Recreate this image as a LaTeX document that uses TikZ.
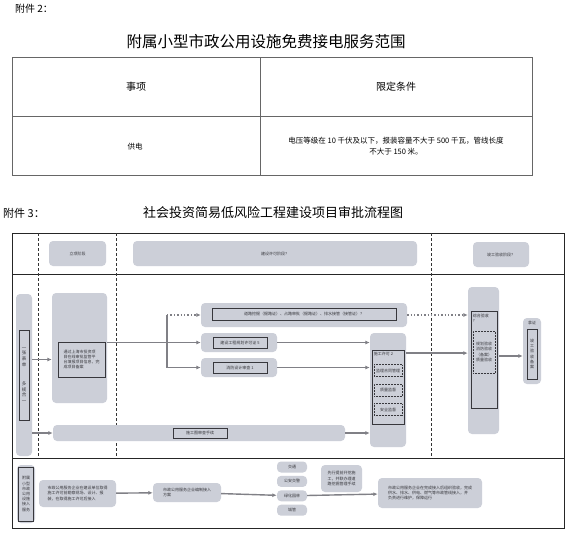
\documentclass[tikz,border=0pt]{standalone}
\usepackage{fontspec}
\setmainfont{Noto Sans CJK SC}
\usetikzlibrary{arrows.meta,positioning}
\XeTeXlinebreaklocale "zh"
\XeTeXlinebreakskip=0pt plus 1pt
\definecolor{boxfill}{RGB}{204,207,216}
\definecolor{arrgray}{RGB}{128,128,134}
\definecolor{inkgray}{RGB}{55,55,60}

\begin{document}
\begin{tikzpicture}[x=1pt,y=-1pt, every node/.style={font=\fontsize{4}{5.2}\selectfont,text=inkgray,inner sep=0pt}, pbox/.style={rectangle,rounded corners=4pt,fill=boxfill,align=center}, ibox/.style={rectangle,draw=inkgray,line width=0.5pt,align=center}, dbox/.style={rectangle,draw=inkgray,densely dotted,line width=0.5pt,align=center}, arr/.style={-{Latex[length=4.5pt,width=4pt]},draw=arrgray,line width=1.4pt}, darr/.style={arr,dotted,line width=1.7pt}, sep/.style={draw=black!80,line width=0.8pt,dash pattern=on 3pt off 2pt}, cell/.style={font=\fontsize{10}{12}\selectfont,text=black}]
\fill[white] (0,0) rectangle (573,539);
\useasboundingbox (0,0) rectangle (573,539);

% attachment 2: table
\node[cell,anchor=west] (att2) at (15,9) {附件 2：};
\node[cell,font=\fontsize{15.5}{18}\selectfont] (title2) at (266,42) {附属小型市政公用设施免费接电服务范围};
\draw[black!60,line width=0.7pt] (12,57) rectangle (532,175) (12,116) -- (532,116) (260,57) -- (260,175);
\node[cell] (h1) at (136,87) {事项};
\node[cell] (h2) at (396,87) {限定条件};
\node[cell,font=\fontsize{7.5}{9}\selectfont] (c1) at (135,147) {供电};
\node[cell,font=\fontsize{7.5}{11}\selectfont,align=center] (c2) at (396,146) {电压等级在 10 千伏及以下，报装容量不大于 500 千瓦，管线长度\\不大于 150 米。};

% attachment 3: flow chart
\node[cell,anchor=west,font=\fontsize{11}{13}\selectfont] (att3) at (3,213) {附件 3：};
\node[cell,font=\fontsize{13}{15}\selectfont] (title3) at (273,213) {社会投资简易低风险工程建设项目审批流程图};
\draw[black!85,line width=0.8pt] (12,233) rectangle (564,528) (12,274) -- (564,274) (12,458) -- (564,458);
\draw[sep] (38,233) -- (38,458) (116,233) -- (116,458) (431,233) -- (431,458);

% stage headers
\node[pbox,minimum width=57pt,minimum height=25pt] (st1) at (77.5,253.5) {立项阶段};
\node[pbox,minimum width=284pt,minimum height=25pt] (st2) at (275,253.5) {建设许可阶段？};
\node[pbox,minimum width=56pt,minimum height=25pt] (st3) at (501,254.5) {竣工验收阶段？};

% left column and project filing
\node[pbox,minimum width=16pt,minimum height=162pt] (lbar) at (24,375) {};
\node[ibox,minimum width=10pt,minimum height=90pt,font=\fontsize{4.5}{5.6}\selectfont] (form) at (24,375) {一\\张\\表\\单\\[14pt]多\\规\\合\\一};
\node[pbox,minimum width=55pt,minimum height=110pt] (big) at (79.5,348) {};
\node[ibox,minimum width=47pt,minimum height=35pt,align=left] (filing) at (81.5,359.5) {通过上海市投资项\\目在线审批监管平\\台填报项目信息，完\\成项目备案};

% approvals
\node[pbox,minimum width=206pt,minimum height=24pt] (wide) at (304,315) {};
\node[ibox,minimum width=184pt,minimum height=12pt] (road) at (304,314) {道路挖掘（掘路证）、占路审批（掘路证）、排水接管（接管证）？};
\node[pbox,minimum width=76pt,minimum height=19pt] (plan) at (239,342.5) {};
\node[ibox,minimum width=54pt,minimum height=11pt] (planin) at (240,342.5) {建设工程规划许可证 5};
\node[pbox,minimum width=76pt,minimum height=19pt] (fire) at (239,367.5) {};
\node[ibox,minimum width=54pt,minimum height=11pt] (firein) at (240,367.5) {消防设计审查 1};
\node[pbox,minimum width=292pt,minimum height=16pt] (bar) at (199,433) {};
\node[ibox,minimum width=54pt,minimum height=10pt] (barin) at (200,433) {施工图审查手续};

% construction permit
\node[pbox,minimum width=36pt,minimum height=114pt] (build) at (388,390) {};
\node[ibox,minimum width=32pt,minimum height=74pt] (buildin) at (388,387) {};
\node[anchor=north west] (bt) at (buildin.north west) {\hspace{2pt}\raisebox{-6pt}{施工许可 2}};
\node[dbox,minimum width=28pt,minimum height=12pt] (d1) at (388,370.5) {监理合同管理};
\node[dbox,minimum width=28pt,minimum height=12pt,below=7pt of d1] (d2) {质量监督};
\node[dbox,minimum width=28pt,minimum height=12pt,below=7pt of d2] (d3) {安全监督};

% acceptance and filing
\node[pbox,minimum width=31pt,minimum height=147pt] (acc) at (483.5,360.5) {};
\node[ibox,minimum width=26pt,minimum height=97pt] (accin) at (484,359.5) {};
\node[anchor=north west,align=left] (at) at ([shift={(2pt,-3pt)}]accin.north west) {综合验收\\?};
\node[dbox,minimum width=22pt,minimum height=42pt,align=left] (accd) at (484,352) {规划验收\\消防验收\\（备案）\\质量验收};
\node[pbox,minimum width=18pt,minimum height=66pt] (cert) at (532,351) {};
\node[anchor=north] (ct) at ([yshift=-3pt]cert.north) {拿证};
\node[ibox,minimum width=10pt,minimum height=50pt] (certin) at (532,354) {竣\\工\\验\\收\\备\\案};

% arrows of the approval part
\coordinate (jn) at (167,342.5);
\draw[draw=arrgray,line width=1.4pt] (big.east |- jn) -- (jn);
\draw[draw=arrgray,line width=1.4pt] (jn |- wide) -- (jn |- fire);
\draw[darr] (jn |- wide) -- (wide.west);
\draw[arr] (jn) -- (plan.west);
\draw[arr] (jn |- fire) -- (fire.west);
\draw[arr] (lbar.east |- filing) -- (big.west |- filing);
\draw[arr] (lbar.east |- bar) -- (bar.west);
\draw[arr] (plan.east) -- (plan.east -| build.west);
\draw[arr] (fire.east) -- (fire.east -| build.west);
\draw[arr] (bar.east) -- (bar.east -| build.west);
\draw[darr] (wide.east) -- (wide.east -| acc.west);
\draw[arr] (bt -| build.east) -- (bt -| acc.west);
\draw[arr] (acc.east |- 0,356) -- (cert.west |- 0,356);

% municipal utilities access
\node[pbox,minimum width=18pt,minimum height=58pt] (fm) at (26,494) {};
\node[ibox,minimum width=15pt,minimum height=54pt] (fmin) at (26,494) {附属\\小型\\市政\\公用\\设施\\接入\\服务};
\node[pbox,minimum width=77pt,minimum height=27pt,align=left] (f2) at (77.5,493.5) {市政公用服务企业在建设单位取得\\施工许可前勘察现场、设计、报\\装，在取得施工许可后接入};
\node[pbox,minimum width=68pt,minimum height=19pt,align=left] (f3) at (187,492.5) {市政公用服务企业编制接入\\方案};
\node[pbox,minimum width=30pt,minimum height=11pt] (s1) at (292,467) {交通};
\node[pbox,minimum width=30pt,minimum height=11pt,below=3pt of s1] (s2) {公安交警};
\node[pbox,minimum width=30pt,minimum height=11pt,below=3pt of s2] (s3) {绿化园林};
\node[pbox,minimum width=30pt,minimum height=11pt,below=3pt of s3] (s4) {城管};
\node[pbox,minimum width=41pt,minimum height=27pt,align=left] (f4) at (341.5,478.5) {先行提前开挖施\\工，并联办理道\\路挖掘管理手续};
\node[pbox,minimum width=104pt,minimum height=30pt,align=left] (fin) at (430,493) {市政公用服务企业在完成接入后组织验收，完成\\供水、排水、供电、燃气等市政管线接入，并\\负责进行维护，保障运行};
\draw[arr] (f2) -- (f3);
\draw[arr] (f3) -- (s3);
\draw[arr] (s3) -- (fin);
\end{tikzpicture}
\end{document}
